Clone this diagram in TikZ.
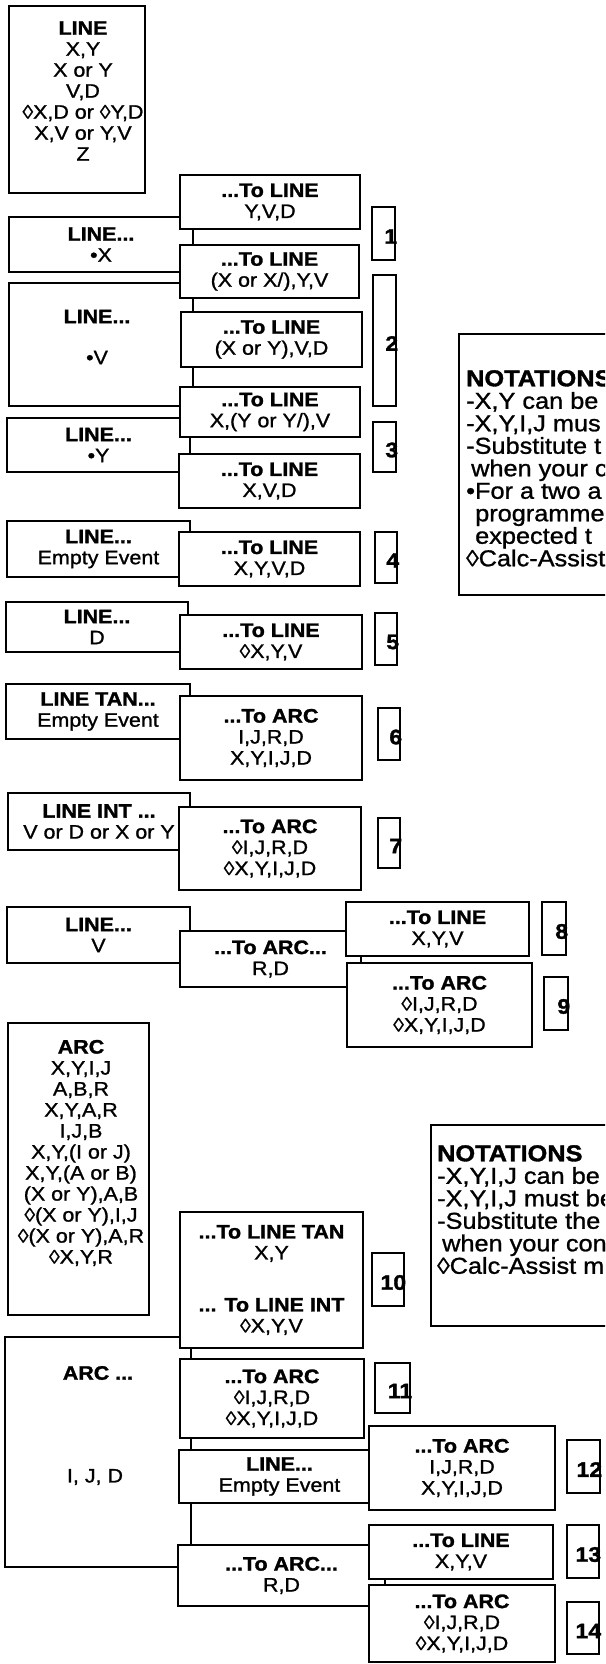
\documentclass[tikz,border=0pt]{standalone}
\usepackage{fontspec}
\setmainfont{Liberation Sans}[FakeStretch=1.1,UprightFeatures={FakeBold=1.1},BoldFeatures={FakeBold=1.5}]

\begin{document}
\begin{tikzpicture}[x=1pt,y=-1pt,
  every node/.style={inner sep=0pt,align=center,font=\fontsize{19.5}{21}\selectfont},
  leftbox/.style={draw,line width=1.1pt},
  optbox/.style={draw,fill=white,line width=1.8pt},
  numbox/.style={draw,line width=2.8pt},
  num/.style={anchor=east,xshift=1pt,yshift=-3pt,font=\fontsize{21}{21}\selectfont\bfseries},
  notebox/.style={draw,line width=2.4pt},
  notetext/.style={anchor=north west,align=left,font=\fontsize{23}{22.5}\selectfont}]

  \useasboundingbox (0,0) rectangle (605,1664);
  \fill[white] (0,0) rectangle (605,1664);
  \clip (0,0) rectangle (605,1664);

  \node[leftbox,minimum width=136pt,minimum height=187pt] (line) at (77,99.5) {};
  \node (linetxt) at (83,91) {\textbf{LINE}\\X,Y\\X or Y\\V,D\\◊X,D or ◊Y,D\\X,V or Y,V\\Z};
  \node[leftbox,minimum width=184pt,minimum height=55pt] (linex) at (101,244.5) {\textbf{LINE...}\\•X};
  \node[leftbox,minimum width=184pt,minimum height=123pt] (linev) at (101,344.5) {};
  \node (linevtxt) at (97,337) {\textbf{LINE...}\\[20pt]•V};
  \node[leftbox,minimum width=183pt,minimum height=54pt] (liney) at (98.5,445) {\textbf{LINE...}\\•Y};
  \node[leftbox,minimum width=183pt,minimum height=56pt] (lineempty) at (98.5,549) {\textbf{LINE...}\\Empty Event};
  \node[leftbox,minimum width=182pt,minimum height=50pt] (lined) at (97,627) {\textbf{LINE...}\\D};
  \node[leftbox,minimum width=184pt,minimum height=55pt] (linetan) at (98,711.5) {\textbf{LINE TAN...}\\Empty Event};
  \node[leftbox,minimum width=182pt,minimum height=57pt] (lineint) at (99,821.5) {\textbf{LINE INT ...}\\V or D or X or Y};
  \node[leftbox,minimum width=183pt,minimum height=56pt] (linevv) at (98.5,935) {\textbf{LINE...}\\V};

  \node[optbox,minimum width=180pt,minimum height=54pt] (toyvd) at (270,202) {\textbf{...To LINE}\\Y,V,D};
  \node[optbox,minimum width=179pt,minimum height=53pt] (toxyv) at (269.5,271.5) {\textbf{...To LINE}\\(X or X/),Y,V};
  \node[optbox,minimum width=181pt,minimum height=55pt] (toxvd) at (271.5,339.5) {\textbf{...To LINE}\\(X or Y),V,D};
  \node[optbox,minimum width=180pt,minimum height=50pt] (toyyv) at (270,412) {\textbf{...To LINE}\\X,(Y or Y/),V};
  \node[optbox,minimum width=181pt,minimum height=54pt] (toxvd2) at (269.5,481) {\textbf{...To LINE}\\X,V,D};
  \node[optbox,minimum width=181pt,minimum height=54pt] (toxyvd) at (269.5,559) {\textbf{...To LINE}\\X,Y,V,D};
  \node[optbox,minimum width=182pt,minimum height=54pt] (todxyv) at (271,642) {\textbf{...To LINE}\\◊X,Y,V};
  \node[optbox,minimum width=182pt,minimum height=84pt] (toarc6) at (271,738) {\textbf{...To ARC}\\I,J,R,D\\X,Y,I,J,D};
  \node[optbox,minimum width=182pt,minimum height=83pt] (toarc7) at (270,848.5) {\textbf{...To ARC}\\◊I,J,R,D\\◊X,Y,I,J,D};
  \node[optbox,minimum width=181pt,minimum height=56pt] (toarcrd) at (270.5,959) {\textbf{...To ARC...}\\R,D};
  \node[optbox,minimum width=183pt,minimum height=54pt] (toline8) at (437.5,929) {\textbf{...To LINE}\\X,Y,V};
  \node[optbox,minimum width=185pt,minimum height=84pt] (toarc9) at (439.5,1005) {\textbf{...To ARC}\\◊I,J,R,D\\◊X,Y,I,J,D};

  \node[numbox,minimum width=23pt,minimum height=53pt,label={[num]east:1}] (n1) at (383.5,233.5) {};
  \node[numbox,minimum width=23pt,minimum height=131pt,label={[num]east:2}] (n2) at (384.5,340.5) {};
  \node[numbox,minimum width=23pt,minimum height=50pt,label={[num]east:3}] (n3) at (384.5,447) {};
  \node[numbox,minimum width=22pt,minimum height=51pt,label={[num]east:4}] (n4) at (386,557.5) {};
  \node[numbox,minimum width=22pt,minimum height=52pt,label={[num]east:5}] (n5) at (386,639) {};
  \node[numbox,minimum width=22pt,minimum height=52pt,label={[num]east:6}] (n6) at (389,734) {};
  \node[numbox,minimum width=22pt,minimum height=50pt,label={[num]east:7}] (n7) at (389,843) {};
  \node[numbox,minimum width=24pt,minimum height=53pt,label={[num]east:8}] (n8) at (554,928.5) {};
  \node[numbox,minimum width=24pt,minimum height=53pt,label={[num]east:9}] (n9) at (556,1003.5) {};

  \node[notebox,minimum width=181pt,minimum height=261pt] (notes1) at (549.5,464.5) {};
  \node[notetext] (notes1txt) at (466,370) {\textbf{NOTATIONS}\\-X,Y can be\\-X,Y,I,J mus\\-Substitute t\\\hspace*{5pt}when your c\\•For a two a\\\hspace*{9pt}programme\\\hspace*{9pt}expected t\\◊Calc-Assist};

  \node[leftbox,minimum width=141pt,minimum height=292pt] (arc) at (78.5,1169) {};
  \node (arctxt) at (81,1153) {\textbf{ARC}\\X,Y,I,J\\A,B,R\\X,Y,A,R\\I,J,B\\X,Y,(I or J)\\X,Y,(A or B)\\(X or Y),A,B\\◊(X or Y),I,J\\◊(X or Y),A,R\\◊X,Y,R};
  \node[leftbox,minimum width=186pt,minimum height=230pt] (arcijd) at (98,1452) {};
  \node (arcijdtxt) at (98,1373) {\textbf{ARC ...}};
  \node (ijdtxt) at (95,1477) {I, J, D};

  \node[optbox,minimum width=183pt,minimum height=136pt] (totan) at (271.5,1280) {\textbf{...To LINE TAN}\\X,Y\\[31pt]\textbf{... To LINE INT}\\◊X,Y,V};
  \node[optbox,minimum width=184pt,minimum height=79pt] (toarc11) at (272,1398.5) {\textbf{...To ARC}\\◊I,J,R,D\\◊X,Y,I,J,D};
  \node[optbox,minimum width=201pt,minimum height=53pt] (lineempty2) at (279.5,1476.5) {\textbf{LINE...}\\Empty Event};
  \node[optbox,minimum width=186pt,minimum height=84pt] (toarc12) at (462,1468) {\textbf{...To ARC}\\I,J,R,D\\X,Y,I,J,D};
  \node[optbox,minimum width=207pt,minimum height=61pt] (toarcrd2) at (281.5,1575.5) {\textbf{...To ARC...}\\R,D};
  \node[optbox,minimum width=184pt,minimum height=54pt] (toline13) at (461,1552) {\textbf{...To LINE}\\X,Y,V};
  \node[optbox,minimum width=186pt,minimum height=77pt] (toarc14) at (462,1623.5) {\textbf{...To ARC}\\◊I,J,R,D\\◊X,Y,I,J,D};

  \node[numbox,minimum width=32pt,minimum height=53pt,label={[num]east:10}] (n10) at (388,1279.5) {};
  \node[numbox,minimum width=35pt,minimum height=50pt,label={[num]east:11}] (n11) at (392.5,1388) {};
  \node[numbox,minimum width=33pt,minimum height=53pt,label={[num]east:12}] (n12) at (583.5,1466.5) {};
  \node[numbox,minimum width=32pt,minimum height=53pt,label={[num]east:13}] (n13) at (583,1551.5) {};
  \node[numbox,minimum width=32pt,minimum height=52pt,label={[num]east:14}] (n14) at (583,1628) {};

  \node[notebox,minimum width=209pt,minimum height=201pt] (notes2) at (535.5,1225.5) {};
  \node[notetext] (notes2txt) at (437,1145) {\textbf{NOTATIONS}\\-X,Y,I,J can be\\-X,Y,I,J must be\\-Substitute the\\\hspace*{5pt}when your con\\◊Calc-Assist ma};
\end{tikzpicture}
\end{document}
